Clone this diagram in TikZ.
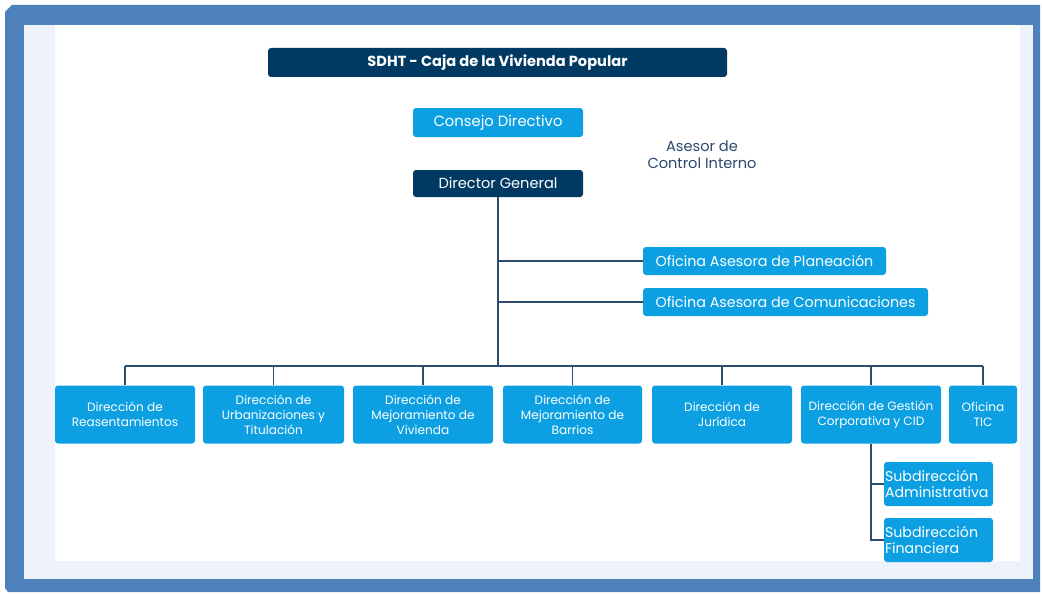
\documentclass[tikz,border=0pt]{standalone}
\usepackage{fontspec}
\setmainfont{Poppins}
\definecolor{framecol}{HTML}{4F81BD}
\definecolor{lightbg}{HTML}{EEF2FA}
\definecolor{navy}{HTML}{003A63}
\definecolor{lblue}{HTML}{0CA0E2}
\definecolor{linecol}{HTML}{2E4D6E}
\definecolor{txtnavy}{HTML}{2B4A6B}
\tikzset{
  navybox/.style={fill=navy, rounded corners=3pt, text=white, inner sep=0pt, align=center},
  lbox/.style={fill=lblue, rounded corners=3pt, text=white, inner sep=0pt, align=center},
  subbox/.style={fill=lblue, rounded corners=3pt, text=white, inner sep=1pt, align=left, text width=107pt, minimum width=109pt, minimum height=44pt, font=\fontsize{14.2}{16.5}\selectfont},
  botbox/.style={lbox, minimum height=58pt, font=\fontsize{12.1}{15}\selectfont},
  conn/.style={draw=linecol, line width=1.8pt}
}
\begin{document}
\begin{tikzpicture}[x=1pt,y=-1pt]
\useasboundingbox (0,0) rectangle (1042,594);
% frame
\fill[framecol] (12,5) -- (1040,5) -- (1040,592) -- (8,592) -- (5,588) -- (5,12) -- cycle;
\fill[lightbg] (24,25) rectangle (1033,579);
\fill[white] (55,25) rectangle (1020,561);
% top nodes
\node[navybox, minimum width=459pt, minimum height=29pt, font=\fontsize{14.6}{16}\selectfont\bfseries] (title) at (497.5,62.5) {SDHT - Caja de la Vivienda Popular};
\node[lbox, minimum width=170pt, minimum height=29pt, font=\fontsize{14.8}{16}\selectfont] (consejo) at (498,122.5) {Consejo Directivo};
\node[navybox, minimum width=170pt, minimum height=27pt, font=\fontsize{14.6}{16}\selectfont] (dg) at (498,183.5) {Director General};
\node[text=txtnavy, align=center, font=\fontsize{14.6}{17}\selectfont, inner sep=0pt] (asesor) at (702,155) {Asesor de\\Control Interno};
\node[lbox, minimum width=243pt, minimum height=28pt, font=\fontsize{14.3}{16}\selectfont] (plan) at (764.5,261) {Oficina Asesora de Planeación};
\node[lbox, minimum width=285pt, minimum height=28pt, font=\fontsize{14.3}{16}\selectfont] (com) at (785.5,302) {Oficina Asesora de Comunicaciones};
% bottom row
\node[botbox, minimum width=140pt] (b1) at (125,414.5) {Dirección de\\Reasentamientos};
\node[botbox, minimum width=141pt] (b2) at (273.5,414.5) {Dirección de\\Urbanizaciones y\\Titulación};
\node[botbox, minimum width=140pt] (b3) at (423,414.5) {Dirección de\\Mejoramiento de\\Vivienda};
\node[botbox, minimum width=139pt] (b4) at (572.5,414.5) {Dirección de\\Mejoramiento de\\Barrios};
\node[botbox, minimum width=140pt] (b5) at (722,414.5) {Dirección de\\Jurídica};
\node[botbox, minimum width=140pt] (b6) at (871,414.5) {Dirección de Gestión\\Corporativa y CID};
\node[botbox, minimum width=68pt] (b7) at (983,414.5) {Oficina\\TIC};
\node[subbox] (s1) at (938.5,484) {Subdirección\\Administrativa};
\node[subbox] (s2) at (938.5,540) {Subdirección\\Financiera};
% connectors
\coordinate (busL) at (125,366);
\coordinate (busR) at (983,366);
\draw[conn] (dg.south) -- (dg.south |- busL);
\draw[conn] (busL) -- (busR);
\draw[conn] (dg.south |- plan.west) -- (plan.west);
\draw[conn] (dg.south |- com.west) -- (com.west);
\foreach \b in {b1,b2,b3,b4,b5,b6,b7} {\draw[conn] (\b.north) -- (\b.north |- busL);}
\draw[conn] (b6.south) -- (b6.south |- s2.west) -- (s2.west);
\draw[conn] (b6.south |- s1.west) -- (s1.west);
\end{tikzpicture}
\end{document}
